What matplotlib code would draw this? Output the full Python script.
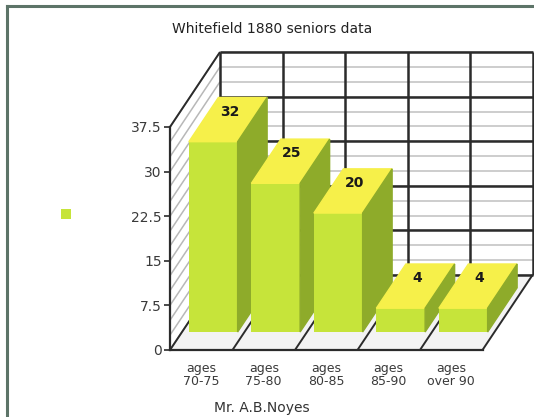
import matplotlib.pyplot as plt
from matplotlib.patches import Patch
from matplotlib.lines import Line2D
import numpy as np

# dados
categorias = ['ages\n70-75', 'ages\n75-80', 'ages\n80-85', 'ages\n85-90', 'ages\nover 90']
valores = [32, 25, 20, 4, 4]
y_ticks = [0, 7.5, 15, 22.5, 30, 37.5]
y_labels = ['0', '7.5', '15', '22.5', '30', '37.5']
titulo = 'Whitefield 1880 seniors data'
rotulo_x = 'Mr. A.B.Noyes'

# cores
cor_frente = '#c6e43a'
cor_topo = '#f6f04a'
cor_lado = '#8eab2a'
cor_grade = '#2b2b2b'
cor_grade_fina = '#c9c9c9'

# "3D" falso: deslocamento da profundidade (unidades de categoria / valor)
DX = 0.8
DY = 12.6
Z0, Z1 = 0.24, 0.83
LARG = 0.78
TOPO = y_ticks[-1]
n = len(valores)


def proj(x, y, z):
    return x + z * DX, y + z * DY


def linha(p, q, **kw):
    a = proj(*p)
    b = proj(*q)
    ax.plot([a[0], b[0]], [a[1], b[1]], solid_capstyle='butt', **kw)


def poligono(pts, **kw):
    xy = [proj(*p) for p in pts]
    ax.fill([p[0] for p in xy], [p[1] for p in xy], **kw)


fig = plt.figure(figsize=(5.34, 4.17), dpi=100)
ax = fig.add_axes([0, 0, 1, 1])
ax.set_xlim(-2.72, 5.824)
ax.set_ylim(-11.27, 58.85)

# paredes e chao
poligono([(0, 0, 1), (n, 0, 1), (n, TOPO, 1), (0, TOPO, 1)], color='white', zorder=0)
poligono([(0, 0, 0), (0, 0, 1), (0, TOPO, 1), (0, TOPO, 0)], color='white', zorder=0)
poligono([(0, 0, 0), (n, 0, 0), (n, 0, 1), (0, 0, 1)], color='#f3f3f3', zorder=0)

# grade fina
for v in np.arange(0, TOPO + 0.1, 2.5):
    linha((0, v, 1), (n, v, 1), color=cor_grade_fina, lw=1.3, zorder=1)
    linha((0, v, 0), (0, v, 1), color='#b8b8b8', lw=1.1, zorder=1)
# grade principal
for v in y_ticks:
    linha((0, v, 1), (n, v, 1), color=cor_grade, lw=1.8, zorder=1.2)
for k in range(n + 1):
    linha((k, 0, 1), (k, TOPO, 1), color=cor_grade, lw=1.8, zorder=1.2)
    linha((k, 0, 0), (k, 0, 1), color=cor_grade, lw=1.4, zorder=1.2)
linha((0, TOPO, 0), (0, TOPO, 1), color=cor_grade, lw=1.4, zorder=1.2)

# barras
centros = np.arange(n) + 0.5
for i, v in enumerate(valores):
    x0 = centros[i] - LARG / 2
    x1 = centros[i] + LARG / 2
    z = 3 + i
    ax.bar(x0 + Z0 * DX, v, width=LARG, bottom=Z0 * DY, align='edge',
           color=cor_frente, zorder=z)
    poligono([(x0, v, Z0), (x1, v, Z0), (x1, v, Z1), (x0, v, Z1)], color=cor_topo, zorder=z)
    poligono([(x1, 0, Z0), (x1, 0, Z1), (x1, v, Z1), (x1, v, Z0)], color=cor_lado, zorder=z)
    zt = Z0 + (Z1 - Z0) * 0.68
    tx, ty = proj(centros[i] - 0.06, v, zt)
    ax.text(tx, ty, str(v), ha='center', va='center', fontsize=10,
            fontweight='bold', color='#1a1a1a', zorder=20)

# eixos
for s in ['top', 'right']:
    ax.spines[s].set_visible(False)
ax.spines['left'].set_position(('data', 0))
ax.spines['left'].set_bounds(0, TOPO)
ax.spines['bottom'].set_position(('data', 0))
ax.spines['bottom'].set_bounds(0, n)
for s in ['left', 'bottom']:
    ax.spines[s].set_color(cor_grade)
    ax.spines[s].set_linewidth(1.6)
ax.set_yticks(y_ticks, y_labels)
ax.set_xticks(centros, categorias)
ax.tick_params(axis='y', length=4, width=1.2, pad=2, labelsize=10,
               colors=cor_grade, labelcolor='#3a3a3a')
ax.tick_params(axis='x', length=0, pad=9, labelsize=9, labelcolor='#3a3a3a')
for t in ax.get_xticklabels():
    t.set_linespacing(0.95)
ax.patch.set_visible(False)

# titulo, rotulo e legenda
fig.text(0.51, 1 - 29 / 417, titulo, ha='center', va='center', fontsize=10, color='#222222')
fig.text(262 / 534, 1 - 408 / 417, rotulo_x, ha='center', va='center', fontsize=10, color='#333333')
fig.legend(handles=[Patch(facecolor=cor_frente)], labels=[''], loc='center',
           bbox_to_anchor=(66 / 534, 1 - 215 / 417), frameon=False,
           handlelength=0.75, handleheight=0.75, handletextpad=0, borderpad=0)

# moldura
fig.add_artist(Line2D([7 / 534, 1], [1 - 6 / 417, 1 - 6 / 417], color='#5d7468', lw=2.2))
fig.add_artist(Line2D([7 / 534, 7 / 534], [0, 1 - 6 / 417], color='#5d7468', lw=2.2))

fig.savefig('out.png', dpi=100)
